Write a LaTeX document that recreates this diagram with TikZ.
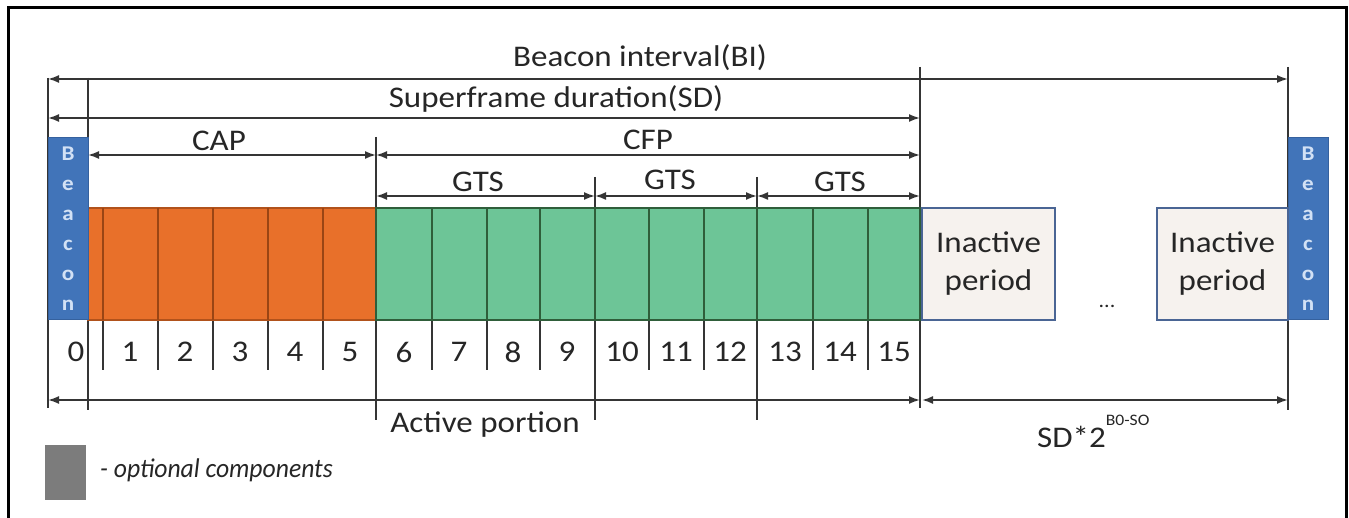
\documentclass[tikz,border=0pt]{standalone}
\usepackage{fontspec}
\setmainfont{Carlito}[FakeStretch=1.1]
\newfontfamily\legfont{Carlito}[FakeStretch=0.95]
\usetikzlibrary{arrows.meta}
\definecolor{orng}{HTML}{E8702A}
\definecolor{orngd}{HTML}{9A4514}
\definecolor{grn}{HTML}{6DC597}
\definecolor{grnd}{HTML}{2F5E3A}
\definecolor{bcn}{HTML}{4174B9}
\definecolor{bcnd}{HTML}{35619E}
\definecolor{bcnt}{HTML}{D2E1F5}
\definecolor{ln}{HTML}{353535}
\definecolor{inact}{HTML}{F6F2EE}
\definecolor{inactb}{HTML}{4A6594}
\definecolor{txt}{HTML}{262626}
\definecolor{leggray}{HTML}{7C7C7C}
\begin{document}
\begin{tikzpicture}[x=1pt,y=-1pt,
  dim/.style={draw=ln, line width=1.8pt, {Latex[length=11pt,width=8pt]}-{Latex[length=11pt,width=8pt]}},
  guide/.style={draw=ln, line width=1.5pt},
  lbl/.style={text=txt, font=\fontsize{30}{34}\selectfont, inner sep=0pt},
  num/.style={text=txt, font=\fontsize{30}{34}\selectfont, inner sep=0pt},
  beaconbox/.style={draw=bcnd, line width=1pt, fill=bcn, minimum width=40pt, minimum height=182pt, inner sep=0pt, align=center, text=bcnt, font=\fontsize{21}{30}\selectfont\bfseries},
  slotbar/.style={minimum height=112pt, inner sep=0pt, line width=1.2pt},
  inactbox/.style={draw=inactb, line width=2pt, fill=inact, minimum height=112pt, inner sep=0pt, align=center, text=txt, font=\fontsize{30}{38}\selectfont},
]
\useasboundingbox (0,0) rectangle (1349,518);
\fill[white] (0,0) rectangle (1349,518);
% frame
\draw[black, line width=3pt] (8,518) -- (8,8) -- (1346,8) -- (1346,518);

% guide coordinates
\coordinate (g48t) at (48,78);   \coordinate (g48b) at (48,408);
\coordinate (g88t) at (88,78);   \coordinate (g88b) at (88,410);
\coordinate (g376t) at (376,137); \coordinate (g376b) at (376,420);
\coordinate (g595t) at (595,177); \coordinate (g595b) at (595,420);
\coordinate (g757t) at (757,177); \coordinate (g757b) at (757,420);
\coordinate (g920t) at (920,67);  \coordinate (g920b) at (920,408);
\coordinate (g1288t) at (1288,67); \coordinate (g1288b) at (1288,410);
\foreach \p in {48,88,376,595,757,920,1288} \draw[guide] (g\p t) -- (g\p b);

% small slot lines below the bar
\foreach \x in {103,158,213,268,323,432,487,540,649,704,813,868} {
  \coordinate (s\x t) at (\x,320); \coordinate (s\x b) at (\x,370);
  \draw[guide] (s\x t) -- (s\x b);
}

% bars
\node[slotbar, fill=orng, draw=orngd!70!orng, minimum width=288pt] (cap) at (232,264) {};
\node[slotbar, fill=grn, draw=grnd, minimum width=544pt] (cfp) at (648,264) {};
\foreach \x in {103,158,213,268,323} \draw[orngd, line width=1.3pt] (\x,208) -- (\x,320);
\foreach \x in {432,487,540,595,649,704,757,813,868} \draw[grnd, line width=1.3pt] (\x,208) -- (\x,320);
\draw[grnd, line width=2pt] (920,208) -- (920,320);

% beacons
\node[beaconbox] (bcnL) at (68,229) {B\\e\\a\\c\\o\\n};
\node[beaconbox] (bcnR) at (1308,229) {B\\e\\a\\c\\o\\n};

% inactive periods
\node[inactbox, minimum width=133pt] (in1) at (988.5,264) {Inactive\\period};
\node[inactbox, minimum width=131pt] (in2) at (1222.5,264) {Inactive\\period};
\node[text=txt, font=\fontsize{20}{20}\selectfont, inner sep=0pt] (dots) at (1107,306) {...};

% dimension arrows
\coordinate (biL) at (48,79);   \coordinate (biR) at (1288,79);
\coordinate (sdL) at (48,118);  \coordinate (sdR) at (920,118);
\coordinate (capL) at (88,155); \coordinate (capR) at (376,155);
\coordinate (cfpL) at (376,155); \coordinate (cfpR) at (920,155);
\coordinate (gtsA) at (376,196); \coordinate (gtsB) at (595,196);
\coordinate (gtsC) at (757,196); \coordinate (gtsD) at (920,196);
\coordinate (apL) at (48,400);  \coordinate (apR) at (920,400);
\coordinate (ipL) at (922,400); \coordinate (ipR) at (1288,400);
\draw[dim] (biL) -- (biR);
\draw[dim] (sdL) -- (sdR);
\draw[dim] (capL) -- (capR);
\draw[dim] (cfpL) -- (cfpR);
\draw[dim] (gtsA) -- (gtsB);
\draw[dim] (gtsB) -- (gtsC);
\draw[dim] (gtsC) -- (gtsD);
\draw[dim] (apL) -- (apR);
\draw[dim] (ipL) -- (ipR);

% labels
\node[lbl] (tBI) at (640,58) {Beacon interval(BI)};
\node[lbl] (tSD) at (556,99) {Superframe duration(SD)};
\node[lbl] (tCAP) at (219,141) {CAP};
\node[lbl] (tCFP) at (648,140) {CFP};
\node[lbl] (tG1) at (478,182) {GTS};
\node[lbl] (tG2) at (670,180) {GTS};
\node[lbl] (tG3) at (840,182) {GTS};
\node[lbl] (tAP) at (485,425) {Active portion};
\node[lbl, anchor=base west] (tSD2) at (1037,447) {SD*2\raisebox{0.72em}{\fontsize{16}{16}\selectfont B0-SO}};

% slot numbers
\foreach \n/\x in {0/76,1/130,2/185,3/240,4/295,5/350,6/404,7/459,8/513,9/567,10/622,11/676,12/730,13/785,14/840,15/894} {
  \node[num] (n\n) at (\x,352) {\n};
}

% legend
\node[fill=leggray, minimum width=41pt, minimum height=55pt, inner sep=0pt] (leg) at (65.5,472.5) {};
\node[text=txt, font=\legfont\fontsize{27}{32}\selectfont\itshape, anchor=west, inner sep=0pt] (legt) at (100,470) {- optional components};
\end{tikzpicture}
\end{document}
